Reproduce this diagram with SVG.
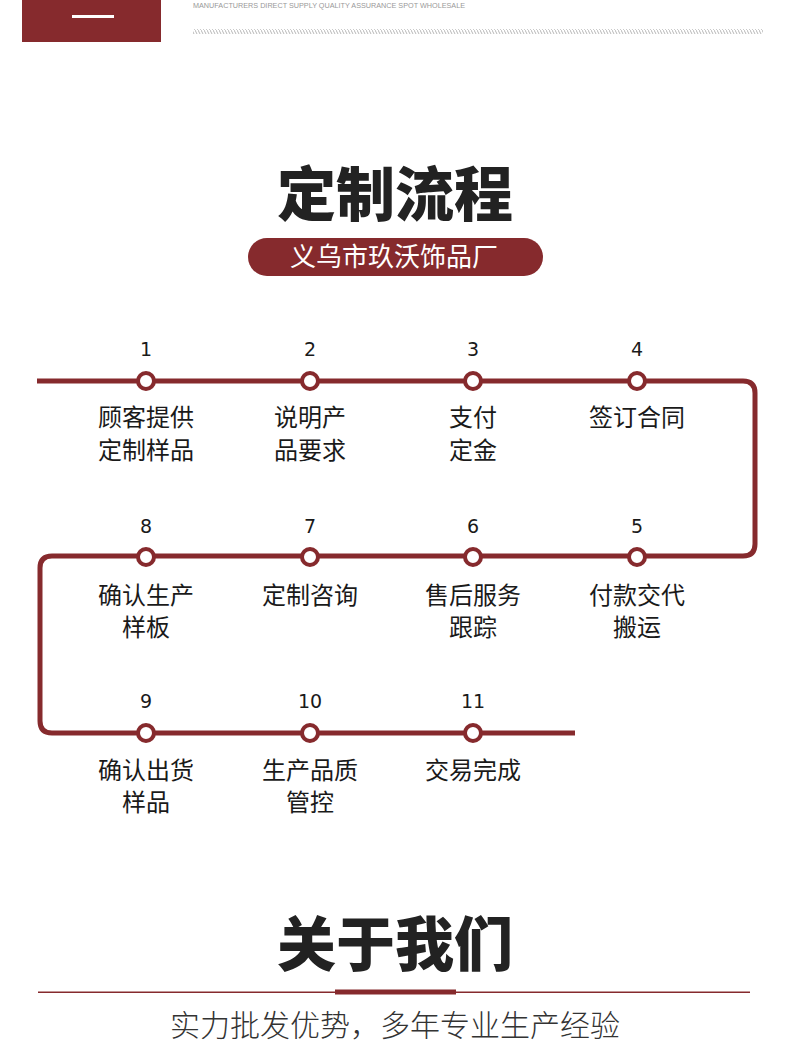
<svg xmlns="http://www.w3.org/2000/svg" width="790" height="1055" viewBox="0 0 790 1055">
<defs>
<pattern id="hatch" width="3" height="6" patternUnits="userSpaceOnUse">
<line x1="0" y1="0" x2="3" y2="6" stroke="#b0b0b0" stroke-width="0.9"/>
</pattern>
<style>
.cn{font-family:"Noto Sans CJK SC","Noto Sans",sans-serif;fill:#1a1a1a;text-anchor:middle}
.lab{font-size:24px}
.num{font-family:"DejaVu Sans","Liberation Sans",sans-serif;font-size:19px;fill:#1a1a1a;text-anchor:middle}
.big{font-size:59px;font-weight:900;fill:#222}
.dot{fill:#fff;stroke:#862a2d;stroke-width:4}
.track{fill:none;stroke:#862a2d;stroke-width:5;stroke-linejoin:round}
</style>
</defs>
<rect width="790" height="1055" fill="#fff"/>
<g id="header">
<rect x="22" y="0" width="139" height="42" fill="#862a2d"/>
<rect x="72" y="15" width="42" height="3" fill="#fff"/>
<text x="193" y="8" font-family="Liberation Sans Narrow,Liberation Sans,sans-serif" font-size="8" fill="#999" textLength="272" lengthAdjust="spacingAndGlyphs">MANUFACTURERS DIRECT SUPPLY QUALITY ASSURANCE SPOT WHOLESALE</text>
<rect x="193" y="29" width="570" height="5" fill="url(#hatch)"/>
</g>
<g id="title">
<text class="cn big" x="395" y="216">定制流程</text>
<rect x="248" y="238" width="295" height="38" rx="19" fill="#862a2d"/>
<text class="cn" x="394" y="266" font-size="26" style="fill:#fff">义乌市玖沃饰品厂</text>
</g>
<g id="connectors">
<path class="track" d="M37 381 H743 Q755 381 755 393 V544 Q755 556 743 556 H52 Q40 556 40 568 V721 Q40 733 52 733 H575"/>
</g>
<g id="step1"><text class="num" x="146" y="356">1</text><circle class="dot" cx="146" cy="381" r="8"/><text class="cn lab" x="146" y="426">顾客提供</text><text class="cn lab" x="146" y="459">定制样品</text></g>
<g id="step2"><text class="num" x="310" y="356">2</text><circle class="dot" cx="310" cy="381" r="8"/><text class="cn lab" x="310" y="426">说明产</text><text class="cn lab" x="310" y="459">品要求</text></g>
<g id="step3"><text class="num" x="473" y="356">3</text><circle class="dot" cx="473" cy="381" r="8"/><text class="cn lab" x="473" y="426">支付</text><text class="cn lab" x="473" y="459">定金</text></g>
<g id="step4"><text class="num" x="637" y="356">4</text><circle class="dot" cx="637" cy="381" r="8"/><text class="cn lab" x="637" y="426">签订合同</text></g>
<g id="step5"><text class="num" x="637" y="533">5</text><circle class="dot" cx="637" cy="557" r="8"/><text class="cn lab" x="637" y="604">付款交代</text><text class="cn lab" x="637" y="636">搬运</text></g>
<g id="step6"><text class="num" x="473" y="533">6</text><circle class="dot" cx="473" cy="557" r="8"/><text class="cn lab" x="473" y="604">售后服务</text><text class="cn lab" x="473" y="636">跟踪</text></g>
<g id="step7"><text class="num" x="310" y="533">7</text><circle class="dot" cx="310" cy="557" r="8"/><text class="cn lab" x="310" y="604">定制咨询</text></g>
<g id="step8"><text class="num" x="146" y="533">8</text><circle class="dot" cx="146" cy="557" r="8"/><text class="cn lab" x="146" y="604">确认生产</text><text class="cn lab" x="146" y="636">样板</text></g>
<g id="step9"><text class="num" x="146" y="708">9</text><circle class="dot" cx="146" cy="733" r="8"/><text class="cn lab" x="146" y="779">确认出货</text><text class="cn lab" x="146" y="811">样品</text></g>
<g id="step10"><text class="num" x="310" y="708">10</text><circle class="dot" cx="310" cy="733" r="8"/><text class="cn lab" x="310" y="779">生产品质</text><text class="cn lab" x="310" y="811">管控</text></g>
<g id="step11"><text class="num" x="473" y="708">11</text><circle class="dot" cx="473" cy="733" r="8"/><text class="cn lab" x="473" y="779">交易完成</text></g>
<g id="about">
<text class="cn big" x="395" y="966">关于我们</text>
<rect x="38" y="991.5" width="712" height="1.5" fill="#862a2d"/>
<rect x="335" y="989.5" width="121" height="5" fill="#862a2d"/>
<text class="cn" x="395" y="1036" font-size="30" style="fill:#333;font-weight:300">实力批发优势，多年专业生产经验</text>
</g>
</svg>
